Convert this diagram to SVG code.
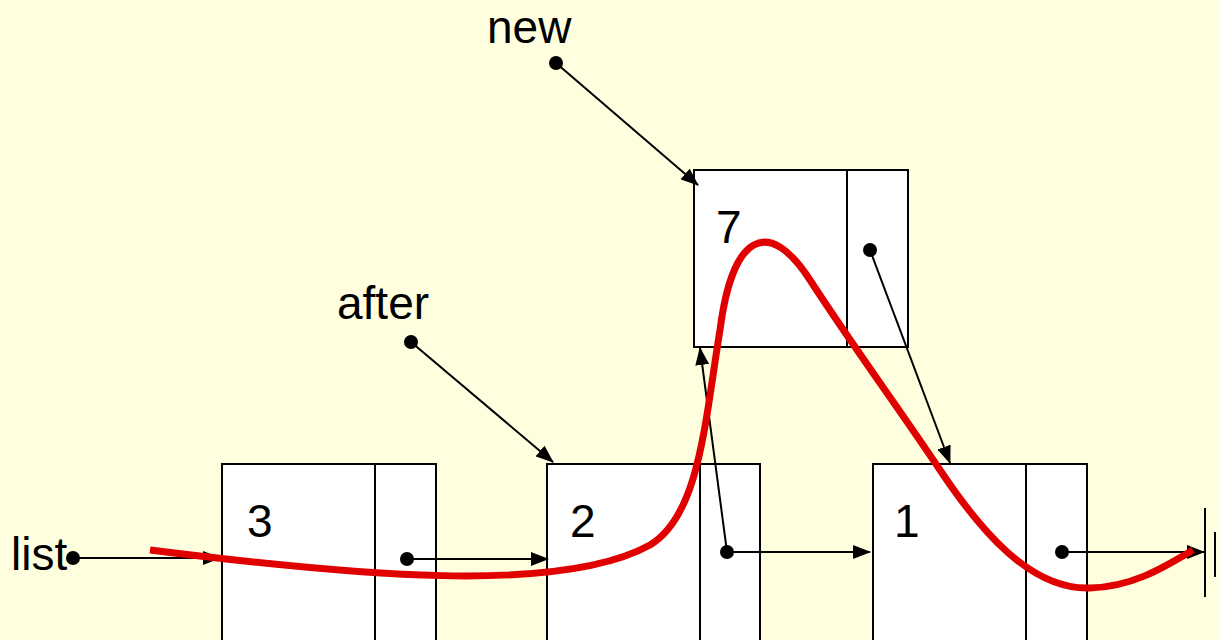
<svg xmlns="http://www.w3.org/2000/svg" width="1220" height="640" viewBox="0 0 1220 640">
<style>
.box{fill:#fff;stroke:#000;stroke-width:2}
.div{stroke:#000;stroke-width:2}
.t{font-family:"Liberation Sans",Arial,sans-serif;font-size:46px;fill:#000}
.ln{stroke:#000;stroke-width:2;fill:none;marker-end:url(#ah)}
.dot{fill:#000}
.red{stroke:#e00000;stroke-width:7;fill:none;stroke-linecap:butt}
</style>
<defs>
<marker id="ah" markerUnits="userSpaceOnUse" markerWidth="18" markerHeight="14" viewBox="0 0 18 14" refX="17" refY="7" orient="auto">
<path d="M0,0 L18,7 L0,14 z" fill="#000"/>
</marker>
</defs>
<rect width="1220" height="640" fill="#ffffe0"/>
<g id="label-list"><text class="t" x="11" y="570" font-size="44">list</text></g>
<g id="label-new"><text class="t" x="487" y="43">new</text></g>
<g id="label-after"><text class="t" x="337" y="319">after</text></g>
<g id="node3">
<rect class="box" x="222" y="464" width="214" height="200"/>
<line class="div" x1="375" y1="464" x2="375" y2="664"/>
<text class="t" x="247" y="537">3</text>
</g>
<g id="node2">
<rect class="box" x="547" y="464" width="213" height="200"/>
<line class="div" x1="700" y1="464" x2="700" y2="664"/>
<text class="t" x="570" y="537">2</text>
</g>
<g id="node1">
<rect class="box" x="873" y="464" width="214" height="200"/>
<line class="div" x1="1026" y1="464" x2="1026" y2="664"/>
<text class="t" x="894" y="537">1</text>
</g>
<g id="node7">
<rect class="box" x="694" y="170" width="214" height="177"/>
<line class="div" x1="847" y1="170" x2="847" y2="347"/>
<text class="t" x="716" y="243">7</text>
</g>
<g id="null">
<line class="div" x1="1205" y1="508" x2="1205" y2="597"/>
<line class="div" x1="1215" y1="532" x2="1215" y2="577"/>
</g>
<g id="connectors">
<line class="ln" x1="73" y1="558" x2="220" y2="558"/>
<line class="ln" x1="407" y1="559" x2="548" y2="559"/>
<line class="ln" x1="727" y1="552" x2="870" y2="552"/>
<line class="ln" x1="1062" y1="552" x2="1204" y2="552"/>
<line class="ln" x1="727" y1="552" x2="700" y2="348"/>
<line class="ln" x1="870" y1="250" x2="950" y2="463"/>
<line class="ln" x1="556" y1="63" x2="698" y2="185"/>
<line class="ln" x1="411" y1="342" x2="553" y2="462"/>
<circle class="dot" cx="73" cy="558" r="7"/>
<circle class="dot" cx="407" cy="559" r="7"/>
<circle class="dot" cx="727" cy="552" r="7"/>
<circle class="dot" cx="1062" cy="552" r="7"/>
<circle class="dot" cx="870" cy="250" r="7"/>
<circle class="dot" cx="556" cy="63" r="7"/>
<circle class="dot" cx="411" cy="342" r="7"/>
</g>
<g id="traversal">
<path class="red" d="M150,550 C350,575 560,595 650,545 C700,515 705,420 720,330 C732,235 768,215 810,280 C850,342 900,410 940,470 C980,530 1030,590 1090,588 C1130,587 1160,570 1193,550"/>
</g>
</svg>
